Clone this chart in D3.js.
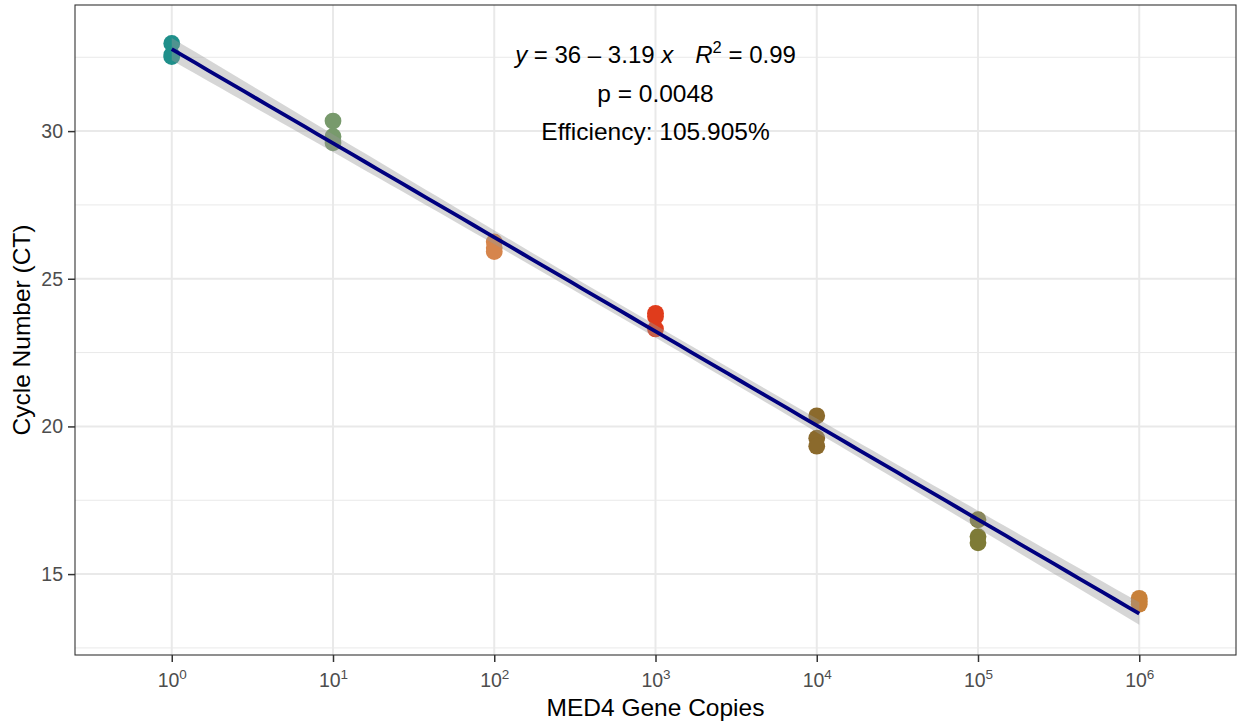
<!DOCTYPE html>
<html>
<head>
<meta charset="utf-8">
<script src="https://cdn.jsdelivr.net/npm/d3@7"></script>
<style>
  html, body { margin: 0; padding: 0; background: #ffffff; }
  svg { display: block; font-family: "Liberation Sans", Arial, Helvetica, sans-serif; }
</style>
</head>
<body>
<svg id="chart" width="1238" height="723"></svg>
<script>
// Standard curve: qPCR cycle threshold vs. MED4 gene copies (3 replicates per dilution)
const dilutionCopies = [1, 10, 100, 1000, 10000, 100000, 1000000];
const ctRep1 = [32.97, 30.34, 26.25, 23.83, 20.36, 16.84, 14.18];
const ctRep2 = [32.58, 29.82, 26.05, 23.72, 19.60, 16.27, 14.08];
const ctRep3 = [32.52, 29.60, 25.92, 23.30, 19.33, 16.06, 13.98];
const dilutionColors = ["#1f8f8a", "#789a6c", "#d6854c", "#e03c1c", "#8b6a2c", "#7e7b37", "#c8813a"];
const xTickExponents = [0, 1, 2, 3, 4, 5, 6];
const yMajorTicks = [15, 20, 25, 30];
const yMinorTicks = [12.5, 17.5, 22.5, 27.5, 32.5];
const annotationLines = ["p = 0.0048", "Efficiency: 105.905%"];

const W = 1238, H = 723;
const margin = { top: 5, right: 2, bottom: 68, left: 75 };
const pw = W - margin.left - margin.right;
const ph = H - margin.top - margin.bottom;

const svg = d3.select("#chart");
const g = svg.append("g").attr("transform", `translate(${margin.left},${margin.top})`);

const x = d3.scaleLog().domain([Math.pow(10, -0.6), Math.pow(10, 6.6)]).range([0, pw]);
const y = d3.scaleLinear().domain([12.26, 34.27]).range([ph, 0]);

// long-format points
const points = [];
dilutionCopies.forEach((c, i) => {
  [ctRep1[i], ctRep2[i], ctRep3[i]].forEach(v => points.push({ copies: c, ct: v, color: dilutionColors[i] }));
});

// least-squares fit of Ct on log10(copies) with 95% confidence band
const lx = points.map(p => Math.log10(p.copies));
const ly = points.map(p => p.ct);
const n = points.length;
const mx = d3.mean(lx), my = d3.mean(ly);
const sxx = d3.sum(lx, v => (v - mx) * (v - mx));
const sxy = d3.sum(lx.map((v, i) => (v - mx) * (ly[i] - my)));
const slope = sxy / sxx;
const intercept = my - slope * mx;
const sse = d3.sum(lx.map((v, i) => Math.pow(ly[i] - (intercept + slope * v), 2)));
const sRes = Math.sqrt(sse / (n - 2));
const tCrit = 2.093; // t(0.975, df = 19)
const fitGrid = d3.range(0, 80 + 1).map(k => {
  const u = d3.min(lx) + (d3.max(lx) - d3.min(lx)) * k / 80;
  const fit = intercept + slope * u;
  const se = sRes * Math.sqrt(1 / n + (u - mx) * (u - mx) / sxx);
  return { copies: Math.pow(10, u), fit, lo: fit - tCrit * se, hi: fit + tCrit * se };
});

// panel background grid
const gridColor = "#e9e9e9";
g.append("g").selectAll("line.ymin").data(yMinorTicks).join("line")
  .attr("x1", 0).attr("x2", pw).attr("y1", d => y(d)).attr("y2", d => y(d))
  .attr("stroke", gridColor).attr("stroke-width", 1);
g.append("g").selectAll("line.ymaj").data(yMajorTicks).join("line")
  .attr("x1", 0).attr("x2", pw).attr("y1", d => y(d)).attr("y2", d => y(d))
  .attr("stroke", gridColor).attr("stroke-width", 2);
g.append("g").selectAll("line.xmaj").data(xTickExponents).join("line")
  .attr("y1", 0).attr("y2", ph).attr("x1", d => x(Math.pow(10, d))).attr("x2", d => x(Math.pow(10, d)))
  .attr("stroke", gridColor).attr("stroke-width", 2);

// replicate points
g.append("g").selectAll("circle").data(points).join("circle")
  .attr("cx", d => x(d.copies)).attr("cy", d => y(d.ct)).attr("r", 8.4)
  .attr("fill", d => d.color);

// confidence band and fitted line
g.append("path").datum(fitGrid)
  .attr("d", d3.area().x(d => x(d.copies)).y0(d => y(d.lo)).y1(d => y(d.hi)))
  .attr("fill", "#999999").attr("fill-opacity", 0.4);
g.append("path").datum(fitGrid)
  .attr("d", d3.line().x(d => x(d.copies)).y(d => y(d.fit)))
  .attr("fill", "none").attr("stroke", "#00007f").attr("stroke-width", 3.8);

// panel border
g.append("rect").attr("x", 0).attr("y", 0).attr("width", pw).attr("height", ph)
  .attr("fill", "none").attr("stroke", "#333333").attr("stroke-width", 1.1);

// axes
const tickColor = "#333333", labelColor = "#4d4d4d";
const yAxis = g.append("g").call(d3.axisLeft(y).tickValues(yMajorTicks).tickSize(7).tickPadding(5));
const xAxis = g.append("g").attr("transform", `translate(0,${ph})`)
  .call(d3.axisBottom(x).tickValues(xTickExponents.map(e => Math.pow(10, e))).tickSize(7).tickPadding(10).tickFormat(() => ""));
[yAxis, xAxis].forEach(a => {
  a.select(".domain").remove();
  a.selectAll(".tick line").attr("stroke", tickColor).attr("stroke-width", 1.5);
});
yAxis.selectAll(".tick text").attr("fill", labelColor).attr("font-size", 19.5).attr("font-family", null);

xAxis.selectAll(".tick text").each(function(d) {
  const t = d3.select(this).attr("fill", labelColor).attr("font-size", 19.5).attr("font-family", null)
    .attr("dy", null).attr("y", 32);
  t.append("tspan").text("10");
  t.append("tspan").attr("font-size", 13.5).attr("dy", -8.5).text(Math.round(Math.log10(d)));
});

// axis titles
svg.append("text").attr("x", margin.left + pw / 2).attr("y", 716)
  .attr("text-anchor", "middle").attr("font-size", 24.5).attr("fill", "#000")
  .text("MED4 Gene Copies");
svg.append("text").attr("transform", `translate(30,${margin.top + ph / 2}) rotate(-90)`)
  .attr("text-anchor", "middle").attr("font-size", 24.5).attr("fill", "#000")
  .text("Cycle Number (CT)");

// regression annotation
const annX = margin.left + pw / 2;
const eq = svg.append("text").attr("x", annX).attr("y", 63).attr("text-anchor", "middle")
  .attr("font-size", 24).attr("fill", "#000");
eq.append("tspan").attr("font-style", "italic").text("y");
eq.append("tspan").text(" = 36 \u2013 3.19 ");
eq.append("tspan").attr("font-style", "italic").text("x");
eq.append("tspan").attr("dx", 22).attr("font-style", "italic").text("R");
eq.append("tspan").attr("font-size", 16.5).attr("dy", -10).text("2");
eq.append("tspan").attr("dy", 10).text(" = 0.99");

annotationLines.forEach((s, i) => {
  svg.append("text").attr("x", annX).attr("y", 101.5 + i * 38.5).attr("text-anchor", "middle")
    .attr("font-size", 24.5).attr("fill", "#000").text(s);
});
</script>
</body>
</html>
